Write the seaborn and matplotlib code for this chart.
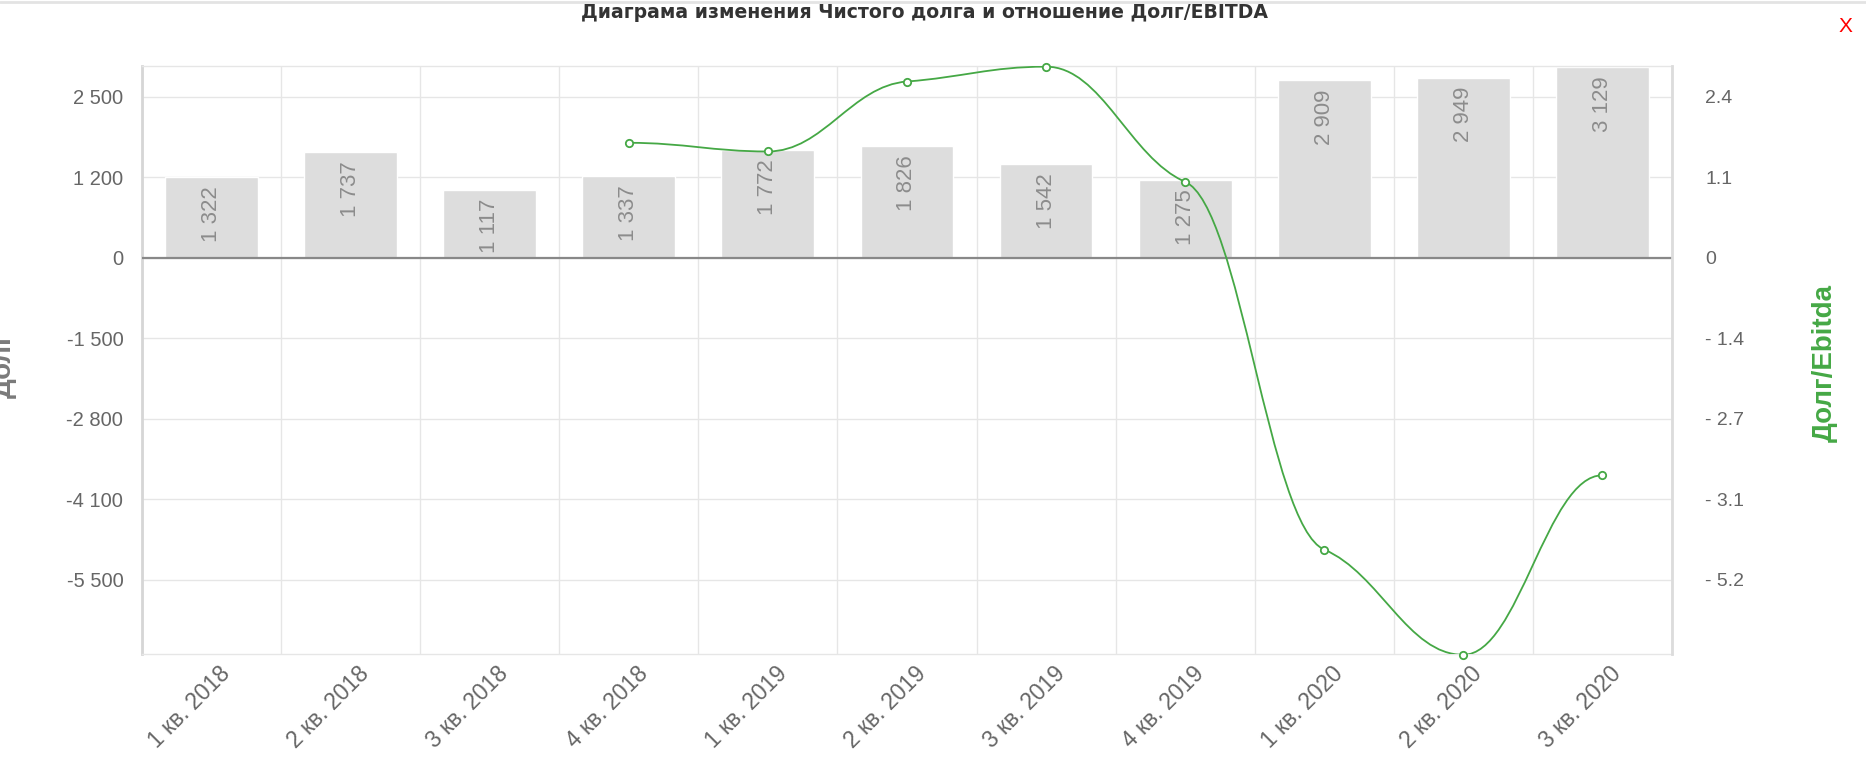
#!/usr/bin/env python3

import numpy as np
import matplotlib
matplotlib.use("Agg")
import matplotlib.pyplot as plt
import matplotlib.transforms as mtrans
from matplotlib.path import Path
from matplotlib.patches import PathPatch
from matplotlib.lines import Line2D
import seaborn as sns

quarters = ["1 кв. 2018", "2 кв. 2018", "3 кв. 2018", "4 кв. 2018",
            "1 кв. 2019", "2 кв. 2019", "3 кв. 2019", "4 кв. 2019",
            "1 кв. 2020", "2 кв. 2020", "3 кв. 2020"]
debt = [1322, 1737, 1117, 1337, 1772, 1826, 1542, 1275, 2909, 2949, 3129]
debt_ebitda = [None, None, None, 1.86, 1.72, 2.85, 3.09, 1.23, -4.71, -6.41, -3.51]

left_tick_labels = ["2 500", "1 200", "0", "-1 500", "-2 800", "-4 100", "-5 500"]
right_tick_labels = ["2.4", "1.1", "0", "- 1.4", "- 2.7", "- 3.1", "- 5.2"]
tick_steps = [2, 1, 0, -1, -2, -3, -4]

LEFT_STEP = 1318
RIGHT_STEP = 1.3
GREEN = "#45a845"
GRID = "#e6e6e6"


def spline_path(xs, ys, reach=0.4, flatten=0.25):
    # bezier through the points, tangents pulled towards horizontal
    n = len(xs)
    slopes = [0.0] * n
    for i in range(1, n - 1):
        lx, ly = xs[i - 1], ys[i - 1]
        nx, ny = xs[i + 1], ys[i + 1]
        x, y = xs[i], ys[i]
        lcx, lcy = x - reach * (x - lx), y - reach * (y - ly)
        rcx, rcy = x + reach * (nx - x), y + reach * (ny - y)
        slope = (rcy - lcy) / (rcx - lcx)
        # local extremum -> flat
        if (y - ly) * (ny - y) <= 0:
            slope = 0.0
        slopes[i] = flatten * slope
    verts = [(xs[0], ys[0])]
    codes = [Path.MOVETO]
    for i in range(1, n):
        dx = xs[i] - xs[i - 1]
        c1 = (xs[i - 1] + reach * dx, ys[i - 1] + slopes[i - 1] * reach * dx)
        c2 = (xs[i] - reach * dx, ys[i] - slopes[i] * reach * dx)
        verts += [c1, c2, (xs[i], ys[i])]
        codes += [Path.CURVE4] * 3
    return Path(verts, codes)


def main():
    sns.set_style("white")
    plt.rcParams['font.family'] = ['Liberation Sans', 'DejaVu Sans']

    fig = plt.figure(figsize=(18.66, 7.78), dpi=100)
    ax = fig.add_axes([0.0761, 0.1594, 0.8199, 0.7558])

    sns.barplot(x=quarters, y=debt, color="#dddddd", saturation=1,
                width=0.667, ax=ax, zorder=2)

    ax.set_xlim(-0.5, len(quarters) - 0.5)
    ax.set_ylim(-6485, 3144)
    ax.set_yticks([s * LEFT_STEP for s in tick_steps], labels=left_tick_labels)
    ax.set_xticks(range(len(quarters)), labels=quarters)
    ax.set_xticks(np.arange(-0.5, len(quarters), 1), minor=True)
    ax.grid(False)
    ax.grid(True, which='minor', axis='x', color=GRID, lw=1, zorder=0)
    ax.grid(True, which='major', axis='y', color=GRID, lw=1, zorder=0)
    ax.set_axisbelow(True)
    ax.axhline(0, color="#888888", lw=1.6, zorder=3)
    ax.set_xlabel("")
    ax.set_ylabel("")

    for i, v in enumerate(debt):
        ax.annotate(f"{v:,}".replace(",", " "), (i, v), xytext=(0, -9),
                    textcoords='offset pixels', rotation=90, ha='center',
                    va='top', color="#8c8c8c", fontsize=16, zorder=4)

    ax.tick_params(axis='y', which='both', length=0, pad=13.5,
                   labelsize=14.5, labelcolor="#666666")
    ax.tick_params(axis='x', which='both', length=0, pad=15,
                   labelsize=16.5, labelcolor="#666666")
    for lab in ax.get_xticklabels():
        lab.set_rotation(45)
        lab.set_ha('right')
        lab.set_va('baseline')
        lab.set_rotation_mode('anchor')

    for name, spine in ax.spines.items():
        spine.set_color(GRID)
        spine.set_linewidth(1)
    ax.spines['left'].set_color("#d6d6d6")
    ax.spines['left'].set_linewidth(2)

    # right axis: Долг/Ebitda
    ax2 = ax.twinx()
    lo, hi = ax.get_ylim()
    ax2.set_ylim(lo / LEFT_STEP * RIGHT_STEP, hi / LEFT_STEP * RIGHT_STEP)
    ax2.set_yticks([s * RIGHT_STEP for s in tick_steps], labels=right_tick_labels)
    ax2.tick_params(axis='y', length=0, pad=24, labelsize=14,
                    labelcolor="#666666")
    for lab in ax2.get_yticklabels():
        lab.set_ha('left')
    ax2.grid(False)
    for name, spine in ax2.spines.items():
        spine.set_visible(False)
    ax2.spines['right'].set_visible(True)
    ax2.spines['right'].set_color("#dcdcdc")
    ax2.spines['right'].set_linewidth(2)

    pts = [(i, v) for i, v in enumerate(debt_ebitda) if v is not None]
    xs = [p[0] for p in pts]
    ys = [p[1] for p in pts]
    ax2.add_patch(PathPatch(spline_path(xs, ys), facecolor='none',
                            edgecolor=GREEN, lw=1.3, zorder=5))
    sns.scatterplot(x=xs, y=ys, ax=ax2, s=28, facecolor='white',
                    edgecolor=GREEN, linewidth=1.3, zorder=6, clip_on=False)

    offset = mtrans.ScaledTranslation(0.20, 0, fig.dpi_scale_trans)
    for lab in ax.get_xticklabels():
        lab.set_transform(lab.get_transform() + offset)

    fig.text(0.4952, 1 - 13 / 778, "Диаграма изменения Чистого долга и отношение Долг/EBITDA",
             ha='center', va='center', fontsize=13.6, fontweight='bold',
             family=['DejaVu Sans'], color="#333333")
    fig.text(1845 / 1866, 1 - 26 / 778, "X", ha='center', va='center',
             fontsize=15, color="#ff0000")
    fig.text(4 / 1866, 1 - 365 / 778, "Долг", rotation=90, ha='center',
             va='center', fontsize=20, fontweight='bold', color="#7a7a7a")
    fig.text(1825 / 1866, 1 - 363 / 778, "Долг/Ebitda", rotation=90,
             ha='center', va='center', fontsize=20, fontweight='bold',
             color=GREEN)
    fig.add_artist(Line2D([0, 1], [1 - 1.5 / 778] * 2, color="#e3e3e3", lw=2))

    fig.savefig("out.png", dpi=100)


if __name__ == "__main__":
    main()
